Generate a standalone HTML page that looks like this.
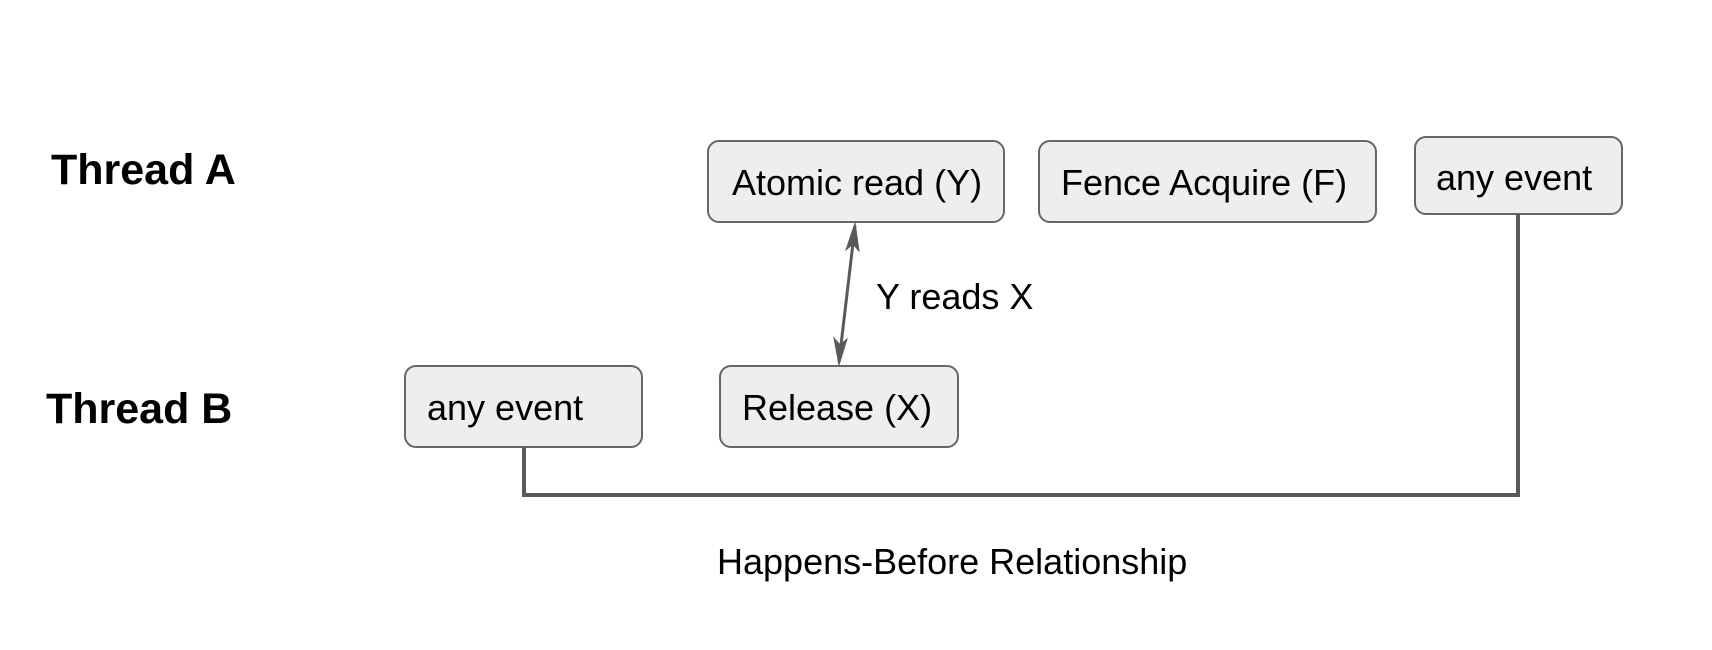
<!DOCTYPE html>
<html><head><meta charset="utf-8"><style>
html,body{margin:0;padding:0;background:#fff;}
body{width:1712px;height:650px;position:relative;overflow:hidden;font-family:"Liberation Sans",Arial,sans-serif;}
.t{position:absolute;color:#000;white-space:nowrap;}
</style></head><body>
<svg width="1712" height="650" style="position:absolute;left:0;top:0">
<g fill="#eeeeee" stroke="#666" stroke-width="2">
<rect x="708" y="141" width="296" height="81" rx="11"/>
<rect x="1039" y="141" width="337" height="81" rx="11"/>
<rect x="1415" y="137" width="207" height="77" rx="11"/>
<rect x="405" y="366" width="237" height="81" rx="11"/>
<rect x="720" y="366" width="238" height="81" rx="11"/>
</g>
<g stroke="#595959" stroke-width="4" fill="none">
<polyline points="524,447 524,495 1518,495 1518,214"/>
</g>
<line x1="855" y1="226" x2="839" y2="362" stroke="#595959" stroke-width="3"/>
<path d="M855,223 L846,250 L853,244 L859,251 Z" fill="#595959" stroke="#595959" stroke-width="1"/>
<path d="M839,365 L834,338 L840,345 L847,339 Z" fill="#595959" stroke="#595959" stroke-width="1"/>
</svg>
<div class="t" style="left:51px;top:146px;font-size:43px;font-weight:bold;">Thread A</div>
<div class="t" style="left:46px;top:385px;font-size:43px;font-weight:bold;">Thread B</div>
<div class="t" style="left:732px;top:162px;font-size:36px;">Atomic read (Y)</div>
<div class="t" style="left:1061px;top:162px;font-size:36px;">Fence Acquire (F)</div>
<div class="t" style="left:1436px;top:157px;font-size:36px;">any event</div>
<div class="t" style="left:427px;top:387px;font-size:36px;">any event</div>
<div class="t" style="left:742px;top:387px;font-size:36px;">Release (X)</div>
<div class="t" style="left:876px;top:276px;font-size:36px;">Y reads X</div>
<div class="t" style="left:717px;top:541px;font-size:36px;">Happens-Before Relationship</div>
</body></html>
